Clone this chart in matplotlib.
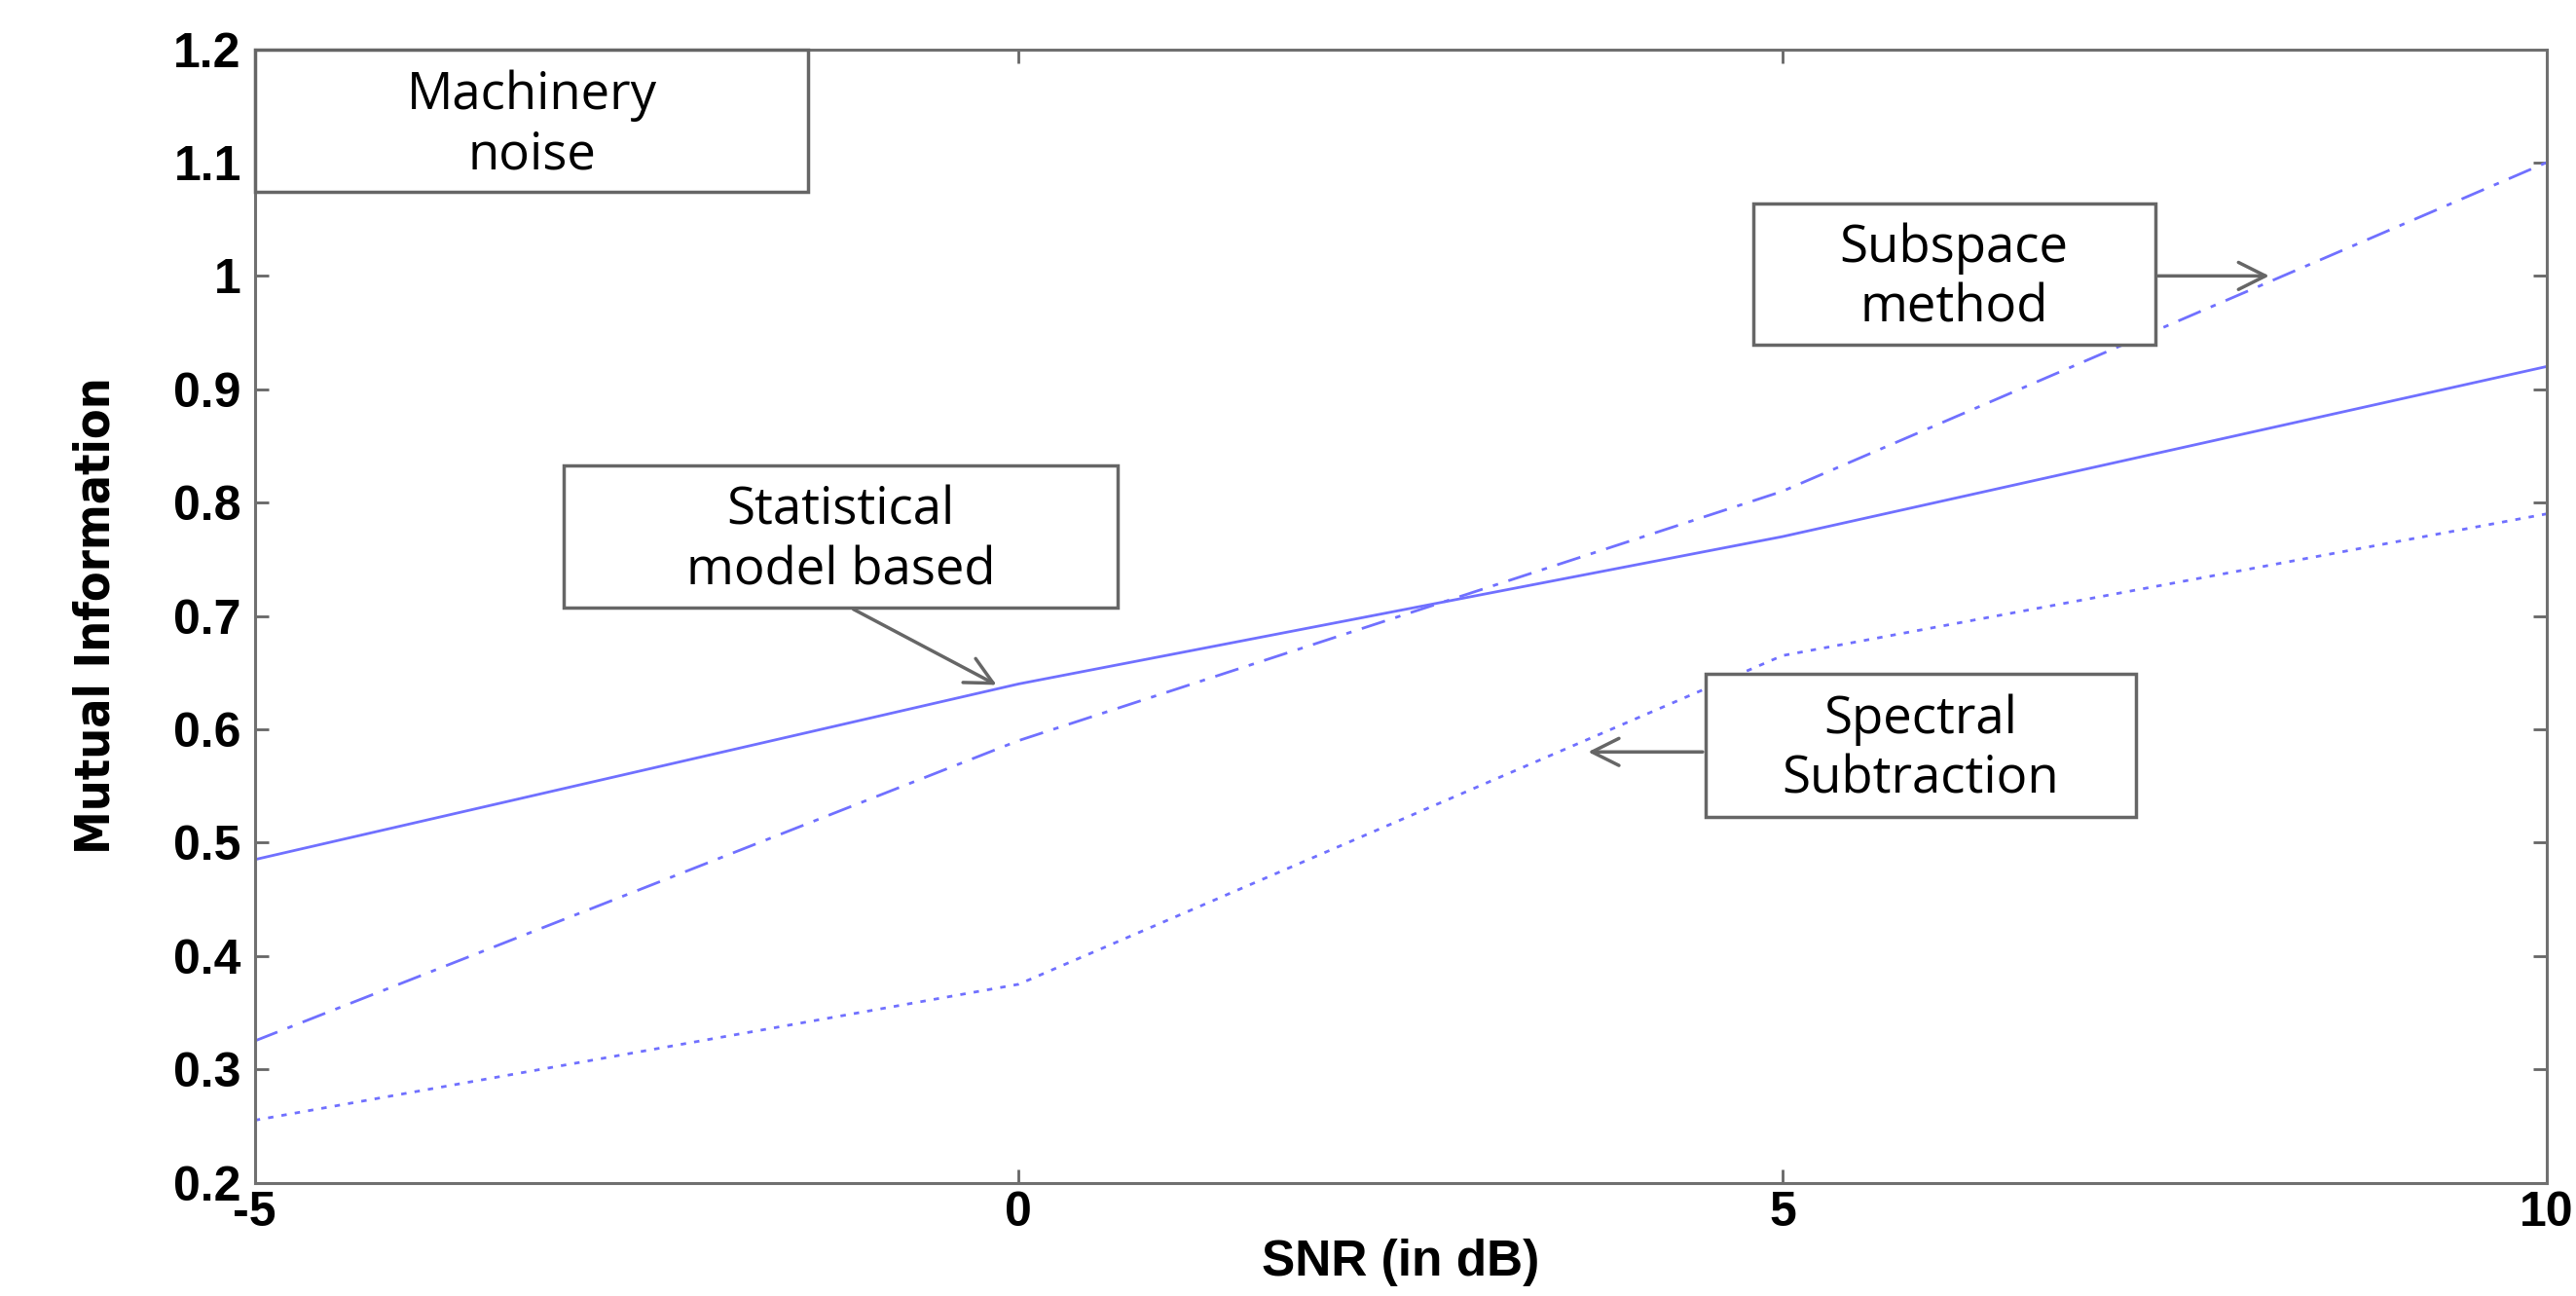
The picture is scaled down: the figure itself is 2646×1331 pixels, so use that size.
import matplotlib.pyplot as plt
import numpy as np

# SNR values and mutual information for each method
snr = np.array([-5, 0, 5, 10])
statistical = np.array([0.485, 0.64, 0.77, 0.92])
subspace = np.array([0.325, 0.59, 0.81, 1.10])
spectral = np.array([0.255, 0.375, 0.665, 0.79])

xticks = [-5, 0, 5, 10]
yticks = [0.2, 0.3, 0.4, 0.5, 0.6, 0.7, 0.8, 0.9, 1.0, 1.1, 1.2]
ytick_labels = ['0.2', '0.3', '0.4', '0.5', '0.6', '0.7', '0.8', '0.9', '1', '1.1', '1.2']

line_color = '#7070ff'
box_color = '#666666'

fig = plt.figure(figsize=(26.46, 13.31), dpi=100)
ax = fig.add_axes([0.0989, 0.0875, 0.8896, 0.8745])

ax.plot(snr, statistical, color=line_color, linestyle='-', linewidth=2)
ax.plot(snr, subspace, color=line_color, linestyle=(0, (9, 4, 2, 4)), linewidth=2)
ax.plot(snr, spectral, color=line_color, linestyle=(0, (2, 3)), linewidth=2)

ax.set_xlim(-5, 10)
ax.set_ylim(0.2, 1.2)
ax.set_xticks(xticks)
ax.set_yticks(yticks)
ax.set_xticklabels([str(t) for t in xticks], fontsize=36, fontweight='bold', family='Liberation Sans')
ax.set_yticklabels(ytick_labels, fontsize=36, fontweight='bold', family='Liberation Sans')
ax.tick_params(axis='y', pad=10)
ax.tick_params(axis='x', pad=6)
ax.tick_params(direction='in', length=10, width=2, color=box_color, top=True, right=True)
for s in ax.spines.values():
    s.set_color('#707070')
    s.set_linewidth(2.2)

ax.set_xlabel('SNR (in dB)', fontsize=37, fontweight='bold', family='Liberation Sans', labelpad=2)
ax.set_ylabel('Mutual Information', fontsize=36, fontweight='bold', fontstretch='condensed',
              family='DejaVu Sans', labelpad=40)

# text boxes (x0, x1, y0, y1) in data units
def box(x0, x1, y0, y1, text):
    ax.add_patch(plt.Rectangle((x0, y0), x1 - x0, y1 - y0, facecolor='white',
                               edgecolor=box_color, linewidth=2.5, zorder=3, clip_on=False))
    ax.text((x0 + x1) / 2, (y0 + y1) / 2 - 0.004, text, ha='center', va='center', fontsize=38,
            family='Open Sans', linespacing=1.2, zorder=4)

box(-5.0, -1.376, 1.074, 1.2, 'Machinery\nnoise')
box(4.806, 7.441, 0.939, 1.064, 'Subspace\nmethod')
box(-2.978, 0.645, 0.707, 0.833, 'Statistical\nmodel based')
box(4.495, 7.312, 0.523, 0.649, 'Spectral\nSubtraction')

arrow = dict(arrowstyle='->', color=box_color, lw=2.5, mutation_scale=50)
ax.annotate('', xy=(8.204, 1.0), xytext=(7.441, 1.0), arrowprops=arrow, zorder=5)
ax.annotate('', xy=(-0.129, 0.638), xytext=(-1.097, 0.707), arrowprops=arrow, zorder=5)
ax.annotate('', xy=(3.710, 0.580), xytext=(4.495, 0.580), arrowprops=arrow, zorder=5)

fig.savefig('out.png', dpi=100)
